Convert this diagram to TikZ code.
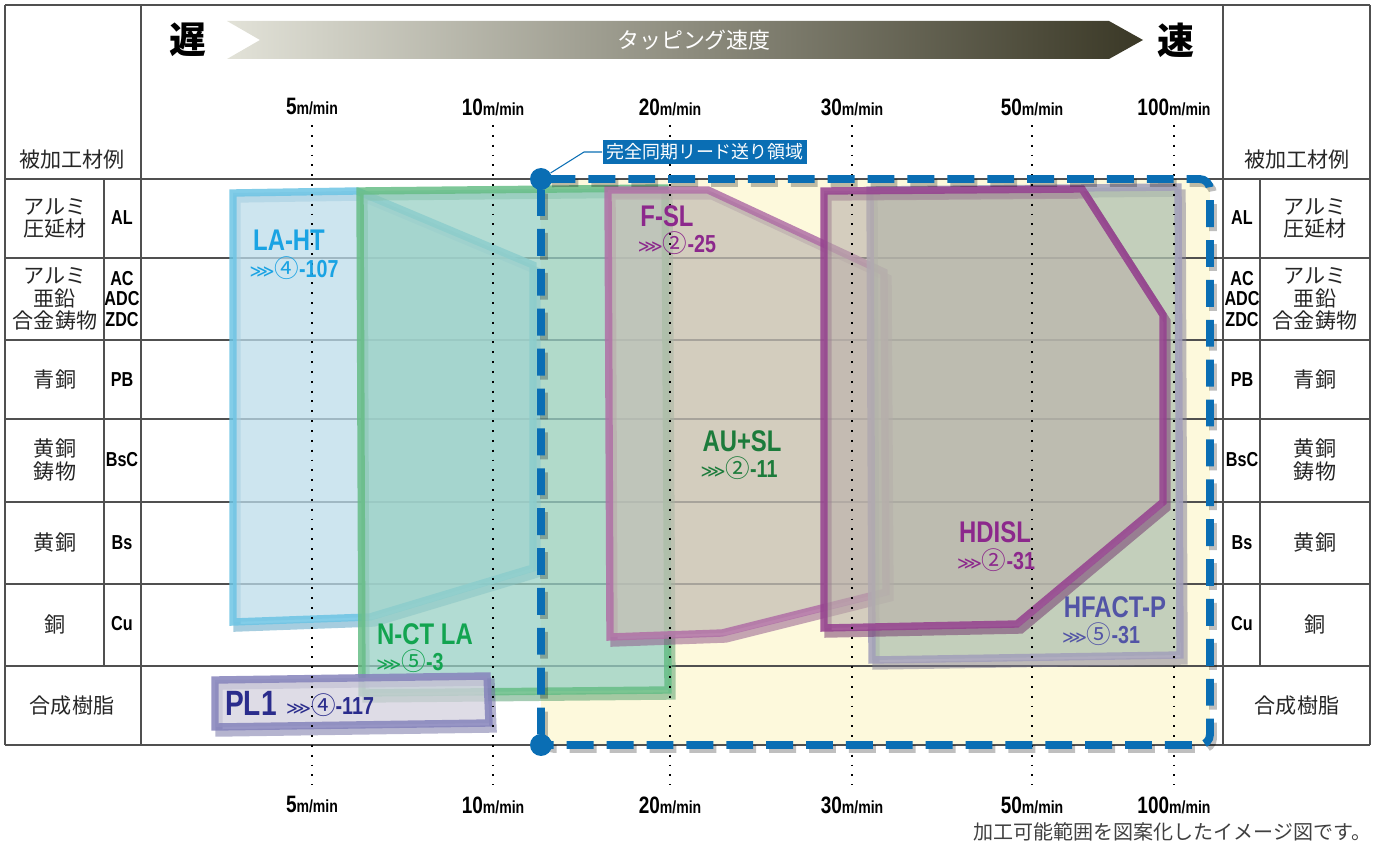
\documentclass[tikz,border=0pt]{standalone}
\usepackage{fontspec}
\setmainfont{Noto Sans CJK JP}
\newfontfamily\cond[FakeStretch=0.8]{Liberation Sans}
\newfontfamily\chev{DejaVu Sans}
\usetikzlibrary{positioning}

\definecolor{gridgray}{HTML}{505050}
\definecolor{yellowbg}{HTML}{FDF9DC}
\definecolor{syncblue}{HTML}{0A6EB4}
\definecolor{banL}{HTML}{E2E2D8}
\definecolor{banR}{HTML}{3A3826}
\definecolor{lahtline}{HTML}{6CC4E4}
\definecolor{lahtfill}{HTML}{BCDCEA}
\definecolor{lahtdeep}{HTML}{4E9CC0}
\definecolor{lahttext}{HTML}{1AA3E3}
\definecolor{nctline}{HTML}{66BD86}
\definecolor{nctfill}{HTML}{98D0C4}
\definecolor{nctdeep}{HTML}{4C9A6A}
\definecolor{ncttext}{HTML}{12A450}
\definecolor{pllline}{HTML}{8583BB}
\definecolor{pllfill}{HTML}{D3D0DD}
\definecolor{meepl}{HTML}{6C6AA0}
\definecolor{plltext}{HTML}{2A2C8C}
\definecolor{fslline}{HTML}{B070A6}
\definecolor{fslfill}{HTML}{C5BFB5}
\definecolor{fsldeep}{HTML}{8C5088}
\definecolor{fsltext}{HTML}{8C288C}
\definecolor{hdline}{HTML}{95408F}
\definecolor{hdfill}{HTML}{BAB0AA}
\definecolor{hdddeep}{HTML}{6E2E6A}
\definecolor{hfline}{HTML}{A29FBA}
\definecolor{hffill}{HTML}{B0C2B0}
\definecolor{hfdeep}{HTML}{7E7B94}
\definecolor{hftext}{HTML}{5254A6}
\definecolor{autext}{HTML}{1C7B3B}

\newcommand\spd[1]{{\cond\bfseries\fontsize{13.5}{13.5}\selectfont #1}{\cond\bfseries\fontsize{10}{10}\selectfont m/min}}
\newcommand\refno[2]{{\chev\fontsize{10}{10}\selectfont ⋙}{\fontsize{14}{14}\selectfont #1}{\cond\bfseries\fontsize{14}{14}\selectfont -#2}}

\tikzset{
  grid/.style={draw=gridgray, line width=0.7pt},
  guide/.style={line width=1.1pt, dash pattern=on 1.1pt off 4.5pt},
  speed/.style={inner sep=0pt},
  mat/.style={align=center, inner sep=0pt, font=\fontsize{12}{12.6}\selectfont, text=black!85},
  code/.style={align=center, inner sep=0pt, font=\cond\bfseries\fontsize{11.5}{11.5}\selectfont},
  tool/.style={line width=4.2pt, line join=miter, fill opacity=0.75, draw opacity=0.85},
  depth/.style={draw=#1, line width=4.2pt, shift={(4,6)}, draw opacity=0.5},
  toolname/.style={inner sep=0pt, font=\cond\bfseries\fontsize{17}{17}\selectfont},
  toolref/.style={inner sep=0pt},
  dot/.style={circle, fill=syncblue, minimum size=12.5pt, inner sep=0pt},
}

\begin{document}
\begin{tikzpicture}[x=0.02cm, y=-0.02cm]
\useasboundingbox (0,0) rectangle (1375,847);

% synchronous feed area background
\fill[yellowbg] (541,179) rectangle (1210,745);

% table lines
\foreach \y in {179,258,340,419,502,584,666,745}
  \draw[grid] (5,\y) -- (1370,\y);
\draw[grid] (5,5) -- (1370,5);
\foreach \x in {5,141,1223,1370}
  \draw[grid] (\x,5) -- (\x,745);
\draw[grid] (104,179) -- (104,666);
\draw[grid] (1260,179) -- (1260,666);

% speed banner
\shade[left color=banL, right color=banR] (227,21) -- (1109,21) -- (1143,40) -- (1109,59) -- (227,59) -- (260,40) -- cycle;
\node[text=white, font=\fontsize{12.5}{12.5}\selectfont] (speedhead) at (694,40) {タッピング速度};
\node[font=\fontsize{21}{21}\selectfont\bfseries] (slow) at (188,40) {遅};
\node[font=\fontsize{21}{21}\selectfont\bfseries] (fast) at (1176,40) {速};

% tool areas
\draw[depth=lahtdeep] (233,193) -- (357,191) -- (533,265) -- (533,568) -- (370,617) -- (233,622) -- cycle;
\draw[tool, draw=lahtline, fill=lahtfill] (233,193) -- (357,191) -- (533,265) -- (533,568) -- (370,617) -- (233,622) -- cycle;

\draw[depth=nctdeep] (360,191) -- (665,188) -- (668,690) -- (362,693) -- cycle;
\draw[tool, draw=nctline, fill=nctfill] (360,191) -- (665,188) -- (668,690) -- (362,693) -- cycle;

\draw[depth=meepl] (215,680) -- (487,676) -- (489,723) -- (215,727) -- cycle;
\draw[tool, draw=pllline, fill=pllfill] (215,680) -- (487,676) -- (489,723) -- (215,727) -- cycle;

\draw[depth=fsldeep] (608,190) -- (708,190) -- (884,272) -- (886,592) -- (722,633) -- (610,637) -- cycle;
\draw[tool, draw=fslline, fill=fslfill] (608,190) -- (708,190) -- (884,272) -- (886,592) -- (722,633) -- (610,637) -- cycle;

\draw[depth=hfdeep] (870,190) -- (1178,187) -- (1180,655) -- (872,660) -- cycle;
\draw[tool, draw=hfline, fill=hffill] (870,190) -- (1178,187) -- (1180,655) -- (872,660) -- cycle;

\draw[depth=hdddeep] (824,191) -- (1082,189) -- (1163,315) -- (1163,502) -- (1017,624) -- (824,628) -- cycle;
\draw[tool, draw=hdline, fill=hdfill, fill opacity=0.6] (824,191) -- (1082,189) -- (1163,315) -- (1163,502) -- (1017,624) -- (824,628) -- cycle;

% speed guides
\foreach \x/\v in {312/5,493/10,670/20,852/30,1032/50,1174/100} {
  \draw[guide] (\x,125) -- (\x,785);
  \node[speed] (top\v) at (\x,107) {\spd{\v}};
  \node[speed] (bot\v) at (\x,805) {\spd{\v}};
}

% synchronous lead feed area
\draw[black, opacity=0.25, line width=4.5pt, dash pattern=on 15.3pt off 7.4pt, rounded corners=6] ([shift={(3,4)}]541,745) -- ([shift={(3,4)}]541,179) -- ([shift={(3,4)}]1210,179) -- ([shift={(3,4)}]1210,745) -- cycle;
\draw[syncblue, line width=4.5pt, dash pattern=on 15.3pt off 7.4pt, rounded corners=6] (541,745) -- (541,179) -- (1210,179) -- (1210,745) -- cycle;
\node[dot] (dtop) at (541,179) {};
\node[dot] (dbot) at (541,745) {};
\node[fill=syncblue, text=white, inner sep=2.2pt, font=\fontsize{10.2}{10.2}\selectfont] (sync) at (705,152) {完全同期リード送り領域};
\coordinate (bend) at (584,152);
\draw[syncblue, line width=0.6pt] (sync.west) -- (bend) -- (dtop);

% tool labels
\node[toolname, text=lahttext] (laht) at (289,240) {LA-HT};
\node[toolref, text=lahttext] (lahtref) at (294,268) {\refno{④}{107}};
\node[toolname, text=ncttext] (nct) at (425,634) {N-CT LA};
\node[toolref, text=ncttext] (nctref) at (410,661) {\refno{⑤}{3}};
\node[toolname, text=plltext, font=\cond\bfseries\fontsize{20}{20}\selectfont] (pl) at (251,703) {PL1};
\node[toolref, text=plltext] (plref) at (330,705) {\refno{④}{117}};
\node[toolname, text=fsltext] (fsl) at (667,216) {F-SL};
\node[toolref, text=fsltext] (fslref) at (677,243) {\refno{②}{25}};
\node[toolname, text=autext] (ausl) at (742,441) {AU+SL};
\node[toolref, text=autext] (auslref) at (739,468) {\refno{②}{11}};
\node[toolname, text=fsltext] (hdisl) at (995,532) {HDISL};
\node[toolref, text=fsltext] (hdislref) at (996,560) {\refno{②}{31}};
\node[toolname, text=hftext] (hfact) at (1115,607) {HFACT-P};
\node[toolref, text=hftext] (hfactref) at (1101,634) {\refno{⑤}{31}};

% materials
\node[mat] (lhead) at (72,160) {被加工材例};
\node[mat] (rhead) at (1297,160) {被加工材例};
\foreach \y/\m/\c [count=\i] in {218/{アルミ\\圧延材}/AL, 299/{アルミ\\亜鉛\\合金鋳物}/{AC\\ADC\\ZDC}, 380/青銅/PB, 460/{黄銅\\鋳物}/BsC, 543/黄銅/Bs, 624/銅/Cu} {
  \node[mat] (lm\i) at (55,\y) {\m};
  \node[code] (lc\i) at (122,\y) {\c};
  \node[code] (rc\i) at (1242,\y) {\c};
  \node[mat] (rm\i) at (1315,\y) {\m};
}
\node[mat] (lresin) at (72,706) {合成樹脂};
\node[mat] (rresin) at (1297,706) {合成樹脂};

\node[anchor=east, inner sep=0pt, text=black!75, font=\fontsize{11.4}{11.4}\selectfont] (note) at (1372,832) {加工可能範囲を図案化したイメージ図です。};
\end{tikzpicture}
\end{document}
